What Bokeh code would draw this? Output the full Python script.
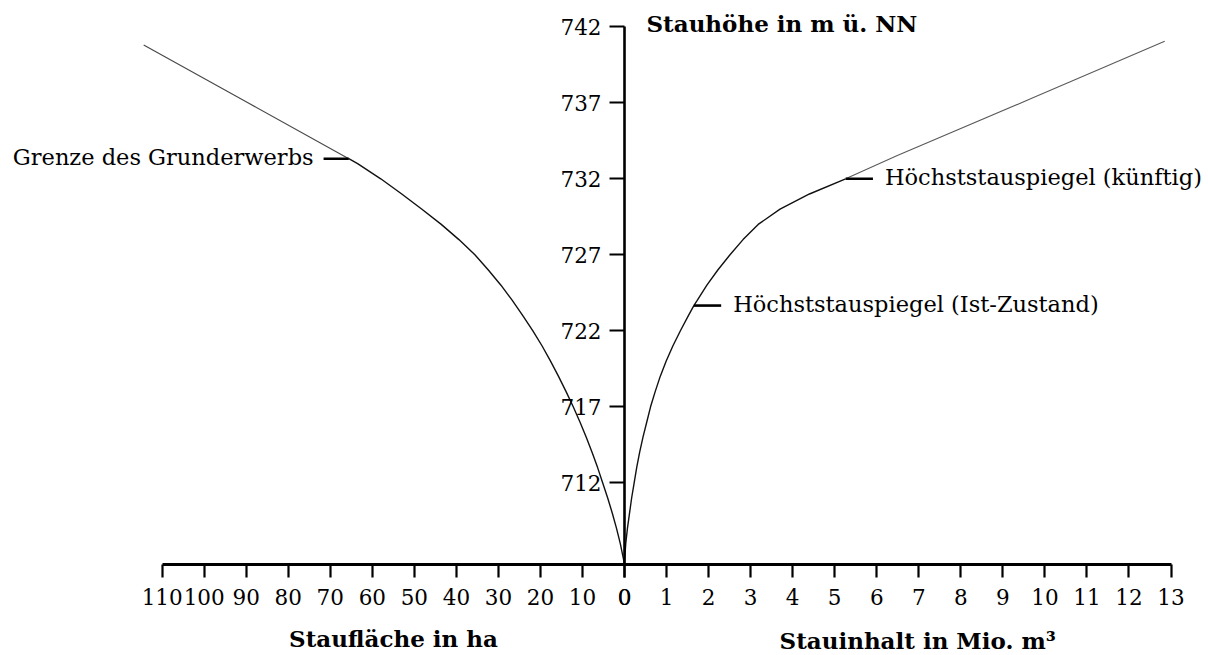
from bokeh.plotting import figure
from bokeh.models import Range1d, LinearAxis, FixedTicker, Label
from bokeh.core.properties import value
from bokeh.embed import file_html
from bokeh.resources import INLINE

# ---- data ----
# Staufläche (ha) against Stauhöhe (m ü. NN)
area_height = [706.63, 707, 708, 709, 710, 711, 712, 713, 714, 715, 716, 717, 718, 719, 720,
               721, 722, 723, 724, 725, 726, 727, 728, 729, 730, 731, 732, 733, 733.32,
               737.0, 740.8]
area_ha = [0.0, 0.25, 1.0, 1.9, 2.9, 4.0, 5.2, 6.4, 7.7, 9.1, 10.6, 12.2, 13.9, 15.7, 17.6,
           19.6, 21.8, 24.2, 26.7, 29.4, 32.4, 35.6, 39.4, 43.6, 48.2, 53.0, 58.0, 63.5, 65.6,
           89.6, 114.4]

# Stauinhalt (Mio. m³) against Stauhöhe
vol_height = [706.63, 707, 708, 709, 710, 711, 712, 713, 714, 715, 716, 717, 718, 719, 720,
              721, 722, 723, 723.66, 724, 725, 726, 727, 728, 729, 730, 731, 732.0,
              733.53, 737.26, 741.05]
vol_mio = [0.0, 0.005, 0.03, 0.07, 0.12, 0.17, 0.23, 0.29, 0.36, 0.44, 0.53, 0.62, 0.73, 0.85,
           0.99, 1.15, 1.33, 1.52, 1.65, 1.73, 1.96, 2.22, 2.51, 2.82, 3.18, 3.70, 4.40, 5.26,
           6.49, 9.66, 12.85]

# marks
grenze_height = 733.32
grenze_ha = 65.6
grenze_text = "Grenze des Grunderwerbs"
ist_height = 723.66
ist_vol = 1.65
ist_text = "Höchststauspiegel (Ist-Zustand)"
kuenftig_height = 732.0
kuenftig_vol = 5.26
kuenftig_text = "Höchststauspiegel (künftig)"

height_ticks = [712, 717, 722, 727, 732, 737, 742]
area_ticks = list(range(0, 111, 10))
vol_ticks = list(range(0, 14))
base_height = 706.63

title_text = "Stauhöhe in m ü. NN"
area_label = "Staufläche in ha"
vol_label = "Stauinhalt in Mio. m³"

SERIF = "DejaVu Serif"

p = figure(width=1208, height=655,
           x_range=Range1d(148.47, -138.95),
           y_range=Range1d(700.638, 743.730),
           x_axis_type=None, y_axis_type=None,
           toolbar_location=None, output_backend="svg",
           min_border=0, min_border_left=0, min_border_right=0,
           min_border_top=0, min_border_bottom=0,
           outline_line_color=None)
p.extra_x_ranges = {"vol": Range1d(-14.843, 13.892)}


def style_axis(ax, tick_out, standoff, lw):
    ax.axis_line_width = lw
    ax.axis_line_color = "black"
    ax.major_tick_line_width = 2.2
    ax.major_tick_line_color = "black"
    ax.major_tick_out = tick_out
    ax.major_tick_in = 0
    ax.minor_tick_out = 0
    ax.minor_tick_in = 0
    ax.major_label_text_font = SERIF
    ax.major_label_text_font_size = "21.5px"
    ax.major_label_text_color = "black"
    ax.major_label_standoff = standoff


yax = LinearAxis(fixed_location=0, bounds=(base_height, 742),
                 ticker=FixedTicker(ticks=height_ticks))
style_axis(yax, 15, 8, 2.6)
p.add_layout(yax, "left")

ax_area = LinearAxis(fixed_location=base_height, bounds=(0, 110),
                     ticker=FixedTicker(ticks=area_ticks),
                     axis_label=area_label)
style_axis(ax_area, 13, 12, 3)
ax_area.axis_label_text_font = SERIF
ax_area.axis_label_text_font_style = "bold"
ax_area.axis_label_text_font_size = "23px"
ax_area.axis_label_text_color = "black"
ax_area.axis_label_standoff = 16
p.add_layout(ax_area, "below")

ax_vol = LinearAxis(x_range_name="vol", fixed_location=base_height, bounds=(0, 13),
                    ticker=FixedTicker(ticks=vol_ticks))
style_axis(ax_vol, 13, 12, 3)
p.add_layout(ax_vol, "below")

vol_title = Label(x=6.5, y=base_height, x_range_name="vol", x_offset=20, y_offset=-76,
                  text=vol_label, text_font=SERIF, text_font_style="bold",
                  text_font_size="23px", text_align="center", text_baseline="middle",
                  text_color="black")
p.add_layout(vol_title)

# curves: lower (solid black) and upper (lighter) parts
a_low = [(h, a) for h, a in zip(area_height, area_ha) if h <= grenze_height]
a_up = [(h, a) for h, a in zip(area_height, area_ha) if h >= grenze_height]
p.line([a for h, a in a_low], [h for h, a in a_low], line_color="#111111", line_width=1.4)
p.line([a for h, a in a_up], [h for h, a in a_up], line_color="#4a4a4a", line_width=1.2)

v_low = [(h, v) for h, v in zip(vol_height, vol_mio) if h <= kuenftig_height]
v_up = [(h, v) for h, v in zip(vol_height, vol_mio) if h >= kuenftig_height]
p.line([v for h, v in v_low], [h for h, v in v_low], line_color="#111111", line_width=1.4,
       x_range_name="vol")
p.line([v for h, v in v_up], [h for h, v in v_up], line_color="#5a5a5a", line_width=1.1,
       x_range_name="vol")

# mark ticks
p.segment(x0=[grenze_ha], y0=[grenze_height], x1=[grenze_ha + 6], y1=[grenze_height],
          line_color="black", line_width=2.6)
p.segment(x0=[ist_vol, kuenftig_vol], y0=[ist_height, kuenftig_height],
          x1=[ist_vol + 0.65, kuenftig_vol + 0.65], y1=[ist_height, kuenftig_height],
          line_color="black", line_width=2.6, x_range_name="vol")

# mark texts
p.text(x=[grenze_ha + 6], y=[grenze_height], text=[grenze_text],
       x_offset=-10, y_offset=-2, text_align="right", text_baseline="middle",
       text_font=value(SERIF), text_font_size="22.5px", text_color="black")
p.text(x=[ist_vol + 0.65, kuenftig_vol + 0.65], y=[ist_height, kuenftig_height],
       text=[ist_text, kuenftig_text],
       x_offset=12, y_offset=-2, text_align="left", text_baseline="middle",
       text_font=value(SERIF), text_font_size="22.5px", text_color="black",
       x_range_name="vol")

title = Label(x=0, y=742, x_range_name="vol", x_offset=22, y_offset=3, text=title_text,
              text_font=SERIF, text_font_style="bold", text_font_size="23px",
              text_baseline="middle", text_align="left", text_color="black")
p.add_layout(title)

open("out.html", "w").write(file_html(p, INLINE))
